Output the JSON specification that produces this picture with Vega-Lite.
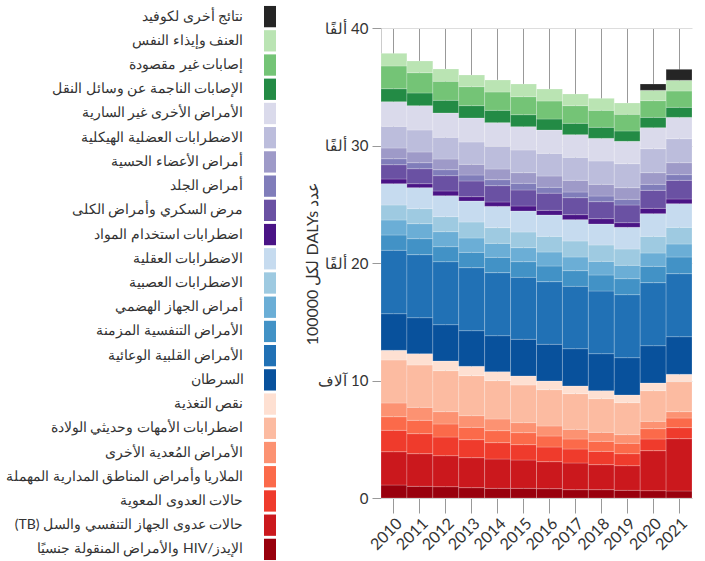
{
  "$schema": "https://vega.github.io/schema/vega-lite/v6.json",
  "padding": {"left": 5, "top": 5, "right": 0, "bottom": 0},
  "background": "white",
  "config": {"view": {"stroke": null}, "font": "Lato", "concat": {"spacing": 28}},
  "datasets": {
    "d": [
      {"year": 2010, "cause": "الإيدز/HIV والأمراض المنقولة جنسيًا", "value": 1106},
      {"year": 2010, "cause": "حالات عدوى الجهاز التنفسي والسل (TB)", "value": 2834},
      {"year": 2010, "cause": "حالات العدوى المعوية", "value": 1821},
      {"year": 2010, "cause": "الملاريا وأمراض المناطق المدارية المهملة", "value": 1158},
      {"year": 2010, "cause": "الأمراض المُعدية الأخرى", "value": 1166},
      {"year": 2010, "cause": "اضطرابات الأمهات وحديثي الولادة", "value": 3660},
      {"year": 2010, "cause": "نقص التغذية", "value": 825},
      {"year": 2010, "cause": "السرطان", "value": 3115},
      {"year": 2010, "cause": "الأمراض القلبية الوعائية", "value": 5395},
      {"year": 2010, "cause": "الأمراض التنفسية المزمنة", "value": 1303},
      {"year": 2010, "cause": "أمراض الجهاز الهضمي", "value": 1277},
      {"year": 2010, "cause": "الاضطرابات العصبية", "value": 1276},
      {"year": 2010, "cause": "الاضطرابات العقلية", "value": 1812},
      {"year": 2010, "cause": "اضطرابات استخدام المواد", "value": 401},
      {"year": 2010, "cause": "مرض السكري وأمراض الكلى", "value": 1217},
      {"year": 2010, "cause": "أمراض الجلد", "value": 510},
      {"year": 2010, "cause": "أمراض الأعضاء الحسية", "value": 911},
      {"year": 2010, "cause": "الاضطرابات العضلية الهيكلية", "value": 1846},
      {"year": 2010, "cause": "الأمراض الأخرى غير السارية", "value": 2094},
      {"year": 2010, "cause": "الإصابات الناجمة عن وسائل النقل", "value": 1106},
      {"year": 2010, "cause": "إصابات غير مقصودة", "value": 1933},
      {"year": 2010, "cause": "العنف وإيذاء النفس", "value": 1079},

      {"year": 2011, "cause": "الإيدز/HIV والأمراض المنقولة جنسيًا", "value": 996},
      {"year": 2011, "cause": "حالات عدوى الجهاز التنفسي والسل (TB)", "value": 2777},
      {"year": 2011, "cause": "حالات العدوى المعوية", "value": 1702},
      {"year": 2011, "cause": "الملاريا وأمراض المناطق المدارية المهملة", "value": 1135},
      {"year": 2011, "cause": "الأمراض المُعدية الأخرى", "value": 1107},
      {"year": 2011, "cause": "اضطرابات الأمهات وحديثي الولادة", "value": 3602},
      {"year": 2011, "cause": "نقص التغذية", "value": 965},
      {"year": 2011, "cause": "السرطان", "value": 3061},
      {"year": 2011, "cause": "الأمراض القلبية الوعائية", "value": 5364},
      {"year": 2011, "cause": "الأمراض التنفسية المزمنة", "value": 1361},
      {"year": 2011, "cause": "أمراض الجهاز الهضمي", "value": 1277},
      {"year": 2011, "cause": "الاضطرابات العصبية", "value": 1276},
      {"year": 2011, "cause": "الاضطرابات العقلية", "value": 1788},
      {"year": 2011, "cause": "اضطرابات استخدام المواد", "value": 337},
      {"year": 2011, "cause": "مرض السكري وأمراض الكلى", "value": 1278},
      {"year": 2011, "cause": "أمراض الجلد", "value": 510},
      {"year": 2011, "cause": "أمراض الأعضاء الحسية", "value": 911},
      {"year": 2011, "cause": "الاضطرابات العضلية الهيكلية", "value": 1872},
      {"year": 2011, "cause": "الأمراض الأخرى غير السارية", "value": 2070},
      {"year": 2011, "cause": "الإصابات الناجمة عن وسائل النقل", "value": 1079},
      {"year": 2011, "cause": "إصابات غير مقصودة", "value": 1727},
      {"year": 2011, "cause": "العنف وإيذاء النفس", "value": 996},

      {"year": 2012, "cause": "الإيدز/HIV والأمراض المنقولة جنسيًا", "value": 965},
      {"year": 2012, "cause": "حالات عدوى الجهاز التنفسي والسل (TB)", "value": 2638},
      {"year": 2012, "cause": "حالات العدوى المعوية", "value": 1588},
      {"year": 2012, "cause": "الملاريا وأمراض المناطق المدارية المهملة", "value": 1107},
      {"year": 2012, "cause": "الأمراض المُعدية الأخرى", "value": 1050},
      {"year": 2012, "cause": "اضطرابات الأمهات وحديثي الولادة", "value": 3489},
      {"year": 2012, "cause": "نقص التغذية", "value": 823},
      {"year": 2012, "cause": "السرطان", "value": 3092},
      {"year": 2012, "cause": "الأمراض القلبية الوعائية", "value": 5361},
      {"year": 2012, "cause": "الأمراض التنفسية المزمنة", "value": 1277},
      {"year": 2012, "cause": "أمراض الجهاز الهضمي", "value": 1277},
      {"year": 2012, "cause": "الاضطرابات العصبية", "value": 1276},
      {"year": 2012, "cause": "الاضطرابات العقلية", "value": 1788},
      {"year": 2012, "cause": "اضطرابات استخدام المواد", "value": 397},
      {"year": 2012, "cause": "مرض السكري وأمراض الكلى", "value": 1304},
      {"year": 2012, "cause": "أمراض الجلد", "value": 511},
      {"year": 2012, "cause": "أمراض الأعضاء الحسية", "value": 908},
      {"year": 2012, "cause": "الاضطرابات العضلية الهيكلية", "value": 1843},
      {"year": 2012, "cause": "الأمراض الأخرى غير السارية", "value": 2072},
      {"year": 2012, "cause": "الإصابات الناجمة عن وسائل النقل", "value": 1078},
      {"year": 2012, "cause": "إصابات غير مقصودة", "value": 1617},
      {"year": 2012, "cause": "العنف وإيذاء النفس", "value": 1049},

      {"year": 2013, "cause": "الإيدز/HIV والأمراض المنقولة جنسيًا", "value": 879},
      {"year": 2013, "cause": "حالات عدوى الجهاز التنفسي والسل (TB)", "value": 2554},
      {"year": 2013, "cause": "حالات العدوى المعوية", "value": 1532},
      {"year": 2013, "cause": "الملاريا وأمراض المناطق المدارية المهملة", "value": 1049},
      {"year": 2013, "cause": "الأمراض المُعدية الأخرى", "value": 993},
      {"year": 2013, "cause": "اضطرابات الأمهات وحديثي الولادة", "value": 3404},
      {"year": 2013, "cause": "نقص التغذية", "value": 794},
      {"year": 2013, "cause": "السرطان", "value": 3036},
      {"year": 2013, "cause": "الأمراض القلبية الوعائية", "value": 5362},
      {"year": 2013, "cause": "الأمراض التنفسية المزمنة", "value": 1305},
      {"year": 2013, "cause": "أمراض الجهاز الهضمي", "value": 1220},
      {"year": 2013, "cause": "الاضطرابات العصبية", "value": 1361},
      {"year": 2013, "cause": "الاضطرابات العقلية", "value": 1787},
      {"year": 2013, "cause": "اضطرابات استخدام المواد", "value": 369},
      {"year": 2013, "cause": "مرض السكري وأمراض الكلى", "value": 1334},
      {"year": 2013, "cause": "أمراض الجلد", "value": 510},
      {"year": 2013, "cause": "أمراض الأعضاء الحسية", "value": 908},
      {"year": 2013, "cause": "الاضطرابات العضلية الهيكلية", "value": 1901},
      {"year": 2013, "cause": "الأمراض الأخرى غير السارية", "value": 2042},
      {"year": 2013, "cause": "الإصابات الناجمة عن وسائل النقل", "value": 1049},
      {"year": 2013, "cause": "إصابات غير مقصودة", "value": 1617},
      {"year": 2013, "cause": "العنف وإيذاء النفس", "value": 993},

      {"year": 2014, "cause": "الإيدز/HIV والأمراض المنقولة جنسيًا", "value": 823},
      {"year": 2014, "cause": "حالات عدوى الجهاز التنفسي والسل (TB)", "value": 2496},
      {"year": 2014, "cause": "حالات العدوى المعوية", "value": 1390},
      {"year": 2014, "cause": "الملاريا وأمراض المناطق المدارية المهملة", "value": 1021},
      {"year": 2014, "cause": "الأمراض المُعدية الأخرى", "value": 993},
      {"year": 2014, "cause": "اضطرابات الأمهات وحديثي الولادة", "value": 3263},
      {"year": 2014, "cause": "نقص التغذية", "value": 766},
      {"year": 2014, "cause": "السرطان", "value": 3061},
      {"year": 2014, "cause": "الأمراض القلبية الوعائية", "value": 5364},
      {"year": 2014, "cause": "الأمراض التنفسية المزمنة", "value": 1305},
      {"year": 2014, "cause": "أمراض الجهاز الهضمي", "value": 1192},
      {"year": 2014, "cause": "الاضطرابات العصبية", "value": 1333},
      {"year": 2014, "cause": "الاضطرابات العقلية", "value": 1815},
      {"year": 2014, "cause": "اضطرابات استخدام المواد", "value": 369},
      {"year": 2014, "cause": "مرض السكري وأمراض الكلى", "value": 1391},
      {"year": 2014, "cause": "أمراض الجلد", "value": 510},
      {"year": 2014, "cause": "أمراض الأعضاء الحسية", "value": 908},
      {"year": 2014, "cause": "الاضطرابات العضلية الهيكلية", "value": 1931},
      {"year": 2014, "cause": "الأمراض الأخرى غير السارية", "value": 2013},
      {"year": 2014, "cause": "الإصابات الناجمة عن وسائل النقل", "value": 1050},
      {"year": 2014, "cause": "إصابات غير مقصودة", "value": 1559},
      {"year": 2014, "cause": "العنف وإيذاء النفس", "value": 1021},

      {"year": 2015, "cause": "الإيدز/HIV والأمراض المنقولة جنسيًا", "value": 823},
      {"year": 2015, "cause": "حالات عدوى الجهاز التنفسي والسل (TB)", "value": 2411},
      {"year": 2015, "cause": "حالات العدوى المعوية", "value": 1305},
      {"year": 2015, "cause": "الملاريا وأمراض المناطق المدارية المهملة", "value": 1021},
      {"year": 2015, "cause": "الأمراض المُعدية الأخرى", "value": 851},
      {"year": 2015, "cause": "اضطرابات الأمهات وحديثي الولادة", "value": 3206},
      {"year": 2015, "cause": "نقص التغذية", "value": 766},
      {"year": 2015, "cause": "السرطان", "value": 3123},
      {"year": 2015, "cause": "الأمراض القلبية الوعائية", "value": 5274},
      {"year": 2015, "cause": "الأمراض التنفسية المزمنة", "value": 1333},
      {"year": 2015, "cause": "أمراض الجهاز الهضمي", "value": 1192},
      {"year": 2015, "cause": "الاضطرابات العصبية", "value": 1333},
      {"year": 2015, "cause": "الاضطرابات العقلية", "value": 1787},
      {"year": 2015, "cause": "اضطرابات استخدام المواد", "value": 426},
      {"year": 2015, "cause": "مرض السكري وأمراض الكلى", "value": 1362},
      {"year": 2015, "cause": "أمراض الجلد", "value": 570},
      {"year": 2015, "cause": "أمراض الأعضاء الحسية", "value": 905},
      {"year": 2015, "cause": "الاضطرابات العضلية الهيكلية", "value": 1929},
      {"year": 2015, "cause": "الأمراض الأخرى غير السارية", "value": 1983},
      {"year": 2015, "cause": "الإصابات الناجمة عن وسائل النقل", "value": 1021},
      {"year": 2015, "cause": "إصابات غير مقصودة", "value": 1532},
      {"year": 2015, "cause": "العنف وإيذاء النفس", "value": 1081},

      {"year": 2016, "cause": "الإيدز/HIV والأمراض المنقولة جنسيًا", "value": 794},
      {"year": 2016, "cause": "حالات عدوى الجهاز التنفسي والسل (TB)", "value": 2298},
      {"year": 2016, "cause": "حالات العدوى المعوية", "value": 1248},
      {"year": 2016, "cause": "الملاريا وأمراض المناطق المدارية المهملة", "value": 937},
      {"year": 2016, "cause": "الأمراض المُعدية الأخرى", "value": 851},
      {"year": 2016, "cause": "اضطرابات الأمهات وحديثي الولادة", "value": 3092},
      {"year": 2016, "cause": "نقص التغذية", "value": 737},
      {"year": 2016, "cause": "السرطان", "value": 3123},
      {"year": 2016, "cause": "الأمراض القلبية الوعائية", "value": 5331},
      {"year": 2016, "cause": "الأمراض التنفسية المزمنة", "value": 1334},
      {"year": 2016, "cause": "أمراض الجهاز الهضمي", "value": 1191},
      {"year": 2016, "cause": "الاضطرابات العصبية", "value": 1333},
      {"year": 2016, "cause": "الاضطرابات العقلية", "value": 1816},
      {"year": 2016, "cause": "اضطرابات استخدام المواد", "value": 397},
      {"year": 2016, "cause": "مرض السكري وأمراض الكلى", "value": 1460},
      {"year": 2016, "cause": "أمراض الجلد", "value": 500},
      {"year": 2016, "cause": "أمراض الأعضاء الحسية", "value": 960},
      {"year": 2016, "cause": "الاضطرابات العضلية الهيكلية", "value": 1930},
      {"year": 2016, "cause": "الأمراض الأخرى غير السارية", "value": 1985},
      {"year": 2016, "cause": "الإصابات الناجمة عن وسائل النقل", "value": 936},
      {"year": 2016, "cause": "إصابات غير مقصودة", "value": 1532},
      {"year": 2016, "cause": "العنف وإيذاء النفس", "value": 1021},

      {"year": 2017, "cause": "الإيدز/HIV والأمراض المنقولة جنسيًا", "value": 709},
      {"year": 2017, "cause": "حالات عدوى الجهاز التنفسي والسل (TB)", "value": 2270},
      {"year": 2017, "cause": "حالات العدوى المعوية", "value": 1191},
      {"year": 2017, "cause": "الملاريا وأمراض المناطق المدارية المهملة", "value": 851},
      {"year": 2017, "cause": "الأمراض المُعدية الأخرى", "value": 823},
      {"year": 2017, "cause": "اضطرابات الأمهات وحديثي الولادة", "value": 3036},
      {"year": 2017, "cause": "نقص التغذية", "value": 652},
      {"year": 2017, "cause": "السرطان", "value": 3177},
      {"year": 2017, "cause": "الأمراض القلبية الوعائية", "value": 5305},
      {"year": 2017, "cause": "الأمراض التنفسية المزمنة", "value": 1334},
      {"year": 2017, "cause": "أمراض الجهاز الهضمي", "value": 1163},
      {"year": 2017, "cause": "الاضطرابات العصبية", "value": 1361},
      {"year": 2017, "cause": "الاضطرابات العقلية", "value": 1817},
      {"year": 2017, "cause": "اضطرابات استخدام المواد", "value": 425},
      {"year": 2017, "cause": "مرض السكري وأمراض الكلى", "value": 1446},
      {"year": 2017, "cause": "أمراض الجلد", "value": 482},
      {"year": 2017, "cause": "أمراض الأعضاء الحسية", "value": 994},
      {"year": 2017, "cause": "الاضطرابات العضلية الهيكلية", "value": 1959},
      {"year": 2017, "cause": "الأمراض الأخرى غير السارية", "value": 1926},
      {"year": 2017, "cause": "الإصابات الناجمة عن وسائل النقل", "value": 968},
      {"year": 2017, "cause": "إصابات غير مقصودة", "value": 1500},
      {"year": 2017, "cause": "العنف وإيذاء النفس", "value": 994},

      {"year": 2018, "cause": "الإيدز/HIV والأمراض المنقولة جنسيًا", "value": 709},
      {"year": 2018, "cause": "حالات عدوى الجهاز التنفسي والسل (TB)", "value": 2128},
      {"year": 2018, "cause": "حالات العدوى المعوية", "value": 1134},
      {"year": 2018, "cause": "الملاريا وأمراض المناطق المدارية المهملة", "value": 852},
      {"year": 2018, "cause": "الأمراض المُعدية الأخرى", "value": 766},
      {"year": 2018, "cause": "اضطرابات الأمهات وحديثي الولادة", "value": 2865},
      {"year": 2018, "cause": "نقص التغذية", "value": 681},
      {"year": 2018, "cause": "السرطان", "value": 3149},
      {"year": 2018, "cause": "الأمراض القلبية الوعائية", "value": 5333},
      {"year": 2018, "cause": "الأمراض التنفسية المزمنة", "value": 1362},
      {"year": 2018, "cause": "أمراض الجهاز الهضمي", "value": 1163},
      {"year": 2018, "cause": "الاضطرابات العصبية", "value": 1390},
      {"year": 2018, "cause": "الاضطرابات العقلية", "value": 1787},
      {"year": 2018, "cause": "اضطرابات استخدام المواد", "value": 454},
      {"year": 2018, "cause": "مرض السكري وأمراض الكلى", "value": 1446},
      {"year": 2018, "cause": "أمراض الجلد", "value": 483},
      {"year": 2018, "cause": "أمراض الأعضاء الحسية", "value": 993},
      {"year": 2018, "cause": "الاضطرابات العضلية الهيكلية", "value": 1986},
      {"year": 2018, "cause": "الأمراض الأخرى غير السارية", "value": 1929},
      {"year": 2018, "cause": "الإصابات الناجمة عن وسائل النقل", "value": 939},
      {"year": 2018, "cause": "إصابات غير مقصودة", "value": 1445},
      {"year": 2018, "cause": "العنف وإيذاء النفس", "value": 1020},

      {"year": 2019, "cause": "الإيدز/HIV والأمراض المنقولة جنسيًا", "value": 652},
      {"year": 2019, "cause": "حالات عدوى الجهاز التنفسي والسل (TB)", "value": 2100},
      {"year": 2019, "cause": "حالات العدوى المعوية", "value": 1021},
      {"year": 2019, "cause": "الملاريا وأمراض المناطق المدارية المهملة", "value": 879},
      {"year": 2019, "cause": "الأمراض المُعدية الأخرى", "value": 738},
      {"year": 2019, "cause": "اضطرابات الأمهات وحديثي الولادة", "value": 2723},
      {"year": 2019, "cause": "نقص التغذية", "value": 653},
      {"year": 2019, "cause": "السرطان", "value": 3177},
      {"year": 2019, "cause": "الأمراض القلبية الوعائية", "value": 5362},
      {"year": 2019, "cause": "الأمراض التنفسية المزمنة", "value": 1362},
      {"year": 2019, "cause": "أمراض الجهاز الهضمي", "value": 1134},
      {"year": 2019, "cause": "الاضطرابات العصبية", "value": 1390},
      {"year": 2019, "cause": "الاضطرابات العقلية", "value": 1844},
      {"year": 2019, "cause": "اضطرابات استخدام المواد", "value": 397},
      {"year": 2019, "cause": "مرض السكري وأمراض الكلى", "value": 1504},
      {"year": 2019, "cause": "أمراض الجلد", "value": 483},
      {"year": 2019, "cause": "أمراض الأعضاء الحسية", "value": 992},
      {"year": 2019, "cause": "الاضطرابات العضلية الهيكلية", "value": 2043},
      {"year": 2019, "cause": "الأمراض الأخرى غير السارية", "value": 1901},
      {"year": 2019, "cause": "الإصابات الناجمة عن وسائل النقل", "value": 879},
      {"year": 2019, "cause": "إصابات غير مقصودة", "value": 1418},
      {"year": 2019, "cause": "العنف وإيذاء النفس", "value": 965},

      {"year": 2020, "cause": "الإيدز/HIV والأمراض المنقولة جنسيًا", "value": 624},
      {"year": 2020, "cause": "حالات عدوى الجهاز التنفسي والسل (TB)", "value": 3404},
      {"year": 2020, "cause": "حالات العدوى المعوية", "value": 993},
      {"year": 2020, "cause": "الملاريا وأمراض المناطق المدارية المهملة", "value": 880},
      {"year": 2020, "cause": "الأمراض المُعدية الأخرى", "value": 624},
      {"year": 2020, "cause": "اضطرابات الأمهات وحديثي الولادة", "value": 2610},
      {"year": 2020, "cause": "نقص التغذية", "value": 652},
      {"year": 2020, "cause": "السرطان", "value": 3175},
      {"year": 2020, "cause": "الأمراض القلبية الوعائية", "value": 5364},
      {"year": 2020, "cause": "الأمراض التنفسية المزمنة", "value": 1390},
      {"year": 2020, "cause": "أمراض الجهاز الهضمي", "value": 1135},
      {"year": 2020, "cause": "الاضطرابات العصبية", "value": 1418},
      {"year": 2020, "cause": "الاضطرابات العقلية", "value": 1929},
      {"year": 2020, "cause": "اضطرابات استخدام المواد", "value": 454},
      {"year": 2020, "cause": "مرض السكري وأمراض الكلى", "value": 1532},
      {"year": 2020, "cause": "أمراض الجلد", "value": 511},
      {"year": 2020, "cause": "أمراض الأعضاء الحسية", "value": 993},
      {"year": 2020, "cause": "الاضطرابات العضلية الهيكلية", "value": 2043},
      {"year": 2020, "cause": "الأمراض الأخرى غير السارية", "value": 1784},
      {"year": 2020, "cause": "الإصابات الناجمة عن وسائل النقل", "value": 881},
      {"year": 2020, "cause": "إصابات غير مقصودة", "value": 1419},
      {"year": 2020, "cause": "العنف وإيذاء النفس", "value": 882},
      {"year": 2020, "cause": "نتائج أخرى لكوفيد", "value": 537},

      {"year": 2021, "cause": "الإيدز/HIV والأمراض المنقولة جنسيًا", "value": 596},
      {"year": 2021, "cause": "حالات عدوى الجهاز التنفسي والسل (TB)", "value": 4453},
      {"year": 2021, "cause": "حالات العدوى المعوية", "value": 937},
      {"year": 2021, "cause": "الملاريا وأمراض المناطق المدارية المهملة", "value": 822},
      {"year": 2021, "cause": "الأمراض المُعدية الأخرى", "value": 540},
      {"year": 2021, "cause": "اضطرابات الأمهات وحديثي الولادة", "value": 2553},
      {"year": 2021, "cause": "نقص التغذية", "value": 624},
      {"year": 2021, "cause": "السرطان", "value": 3203},
      {"year": 2021, "cause": "الأمراض القلبية الوعائية", "value": 5363},
      {"year": 2021, "cause": "الأمراض التنفسية المزمنة", "value": 1420},
      {"year": 2021, "cause": "أمراض الجهاز الهضمي", "value": 1106},
      {"year": 2021, "cause": "الاضطرابات العصبية", "value": 1418},
      {"year": 2021, "cause": "الاضطرابات العقلية", "value": 2012},
      {"year": 2021, "cause": "اضطرابات استخدام المواد", "value": 400},
      {"year": 2021, "cause": "مرض السكري وأمراض الكلى", "value": 1589},
      {"year": 2021, "cause": "أمراض الجلد", "value": 481},
      {"year": 2021, "cause": "أمراض الأعضاء الحسية", "value": 1019},
      {"year": 2021, "cause": "الاضطرابات العضلية الهيكلية", "value": 2042},
      {"year": 2021, "cause": "الأمراض الأخرى غير السارية", "value": 1818},
      {"year": 2021, "cause": "الإصابات الناجمة عن وسائل النقل", "value": 854},
      {"year": 2021, "cause": "إصابات غير مقصودة", "value": 1388},
      {"year": 2021, "cause": "العنف وإيذاء النفس", "value": 910},
      {"year": 2021, "cause": "نتائج أخرى لكوفيد", "value": 936}
    ]
  },
  "hconcat": [
    {
      "width": 12,
      "height": 557,
      "data": {"name": "d"},
      "transform": [{"aggregate": [{"op": "count", "as": "n"}], "groupby": ["cause"]}],
      "mark": {"type": "rect", "yOffset": -23.5},
      "encoding": {
        "y": {
          "field": "cause", "type": "nominal",
          "sort": ["نتائج أخرى لكوفيد", "العنف وإيذاء النفس", "إصابات غير مقصودة", "الإصابات الناجمة عن وسائل النقل", "الأمراض الأخرى غير السارية", "الاضطرابات العضلية الهيكلية", "أمراض الأعضاء الحسية", "أمراض الجلد", "مرض السكري وأمراض الكلى", "اضطرابات استخدام المواد", "الاضطرابات العقلية", "الاضطرابات العصبية", "أمراض الجهاز الهضمي", "الأمراض التنفسية المزمنة", "الأمراض القلبية الوعائية", "السرطان", "نقص التغذية", "اضطرابات الأمهات وحديثي الولادة", "الأمراض المُعدية الأخرى", "الملاريا وأمراض المناطق المدارية المهملة", "حالات العدوى المعوية", "حالات عدوى الجهاز التنفسي والسل (TB)", "الإيدز/HIV والأمراض المنقولة جنسيًا"],
          "scale": {"paddingInner": 0.12, "paddingOuter": 0.06},
          "axis": {"title": null, "domain": false, "ticks": false, "labelPadding": 21, "labelOffset": -23.5, "labelFontSize": 14, "labelColor": "#333", "labelLimit": 400, "labelExpr": "'\u202b' + datum.label + '\u202c'"}
        },
        "color": {
          "field": "cause", "type": "nominal", "legend": null,
          "scale": {
            "domain": ["نتائج أخرى لكوفيد", "العنف وإيذاء النفس", "إصابات غير مقصودة", "الإصابات الناجمة عن وسائل النقل", "الأمراض الأخرى غير السارية", "الاضطرابات العضلية الهيكلية", "أمراض الأعضاء الحسية", "أمراض الجلد", "مرض السكري وأمراض الكلى", "اضطرابات استخدام المواد", "الاضطرابات العقلية", "الاضطرابات العصبية", "أمراض الجهاز الهضمي", "الأمراض التنفسية المزمنة", "الأمراض القلبية الوعائية", "السرطان", "نقص التغذية", "اضطرابات الأمهات وحديثي الولادة", "الأمراض المُعدية الأخرى", "الملاريا وأمراض المناطق المدارية المهملة", "حالات العدوى المعوية", "حالات عدوى الجهاز التنفسي والسل (TB)", "الإيدز/HIV والأمراض المنقولة جنسيًا"],
            "range": ["#252525", "#bae4b3", "#74c476", "#238b45", "#dadaeb", "#bcbddc", "#9e9ac8", "#807dba", "#6a51a3", "#4a1486", "#c6dbef", "#9ecae1", "#6baed6", "#4292c6", "#2171b5", "#08519c", "#fee0d2", "#fcbba1", "#fc9272", "#fb6a4a", "#ef3b2c", "#cb181d", "#99000d"]
          }
        }
      }
    },
    {
      "width": 311,
      "height": 470,
      "data": {"name": "d"},
      "transform": [
        {"calculate": "indexof(['الإيدز/HIV والأمراض المنقولة جنسيًا', 'حالات عدوى الجهاز التنفسي والسل (TB)', 'حالات العدوى المعوية', 'الملاريا وأمراض المناطق المدارية المهملة', 'الأمراض المُعدية الأخرى', 'اضطرابات الأمهات وحديثي الولادة', 'نقص التغذية', 'السرطان', 'الأمراض القلبية الوعائية', 'الأمراض التنفسية المزمنة', 'أمراض الجهاز الهضمي', 'الاضطرابات العصبية', 'الاضطرابات العقلية', 'اضطرابات استخدام المواد', 'مرض السكري وأمراض الكلى', 'أمراض الجلد', 'أمراض الأعضاء الحسية', 'الاضطرابات العضلية الهيكلية', 'الأمراض الأخرى غير السارية', 'الإصابات الناجمة عن وسائل النقل', 'إصابات غير مقصودة', 'العنف وإيذاء النفس', 'نتائج أخرى لكوفيد'], datum.cause)", "as": "stack_rank"}
      ],
      "mark": {"type": "bar", "stroke": "#ffffff", "strokeWidth": 0.4, "strokeOpacity": 0.5},
      "encoding": {
        "x": {
          "field": "year", "type": "ordinal",
          "scale": {"paddingInner": 0, "paddingOuter": 0},
          "axis": {"title": null, "labelAngle": -45, "labelFontSize": 16, "labelColor": "#333", "tickSize": 15, "tickColor": "#999", "grid": true, "gridColor": "#999", "domainColor": "#ccc", "labelPadding": 2}
        },
        "y": {
          "field": "value", "type": "quantitative", "stack": "zero",
          "scale": {"domain": [0, 40000], "nice": false},
          "axis": {
            "values": [0, 10000, 20000, 30000, 40000],
            "labelExpr": "'\u202b' + (datum.value == 0 ? '0' : datum.value == 10000 ? '10 آلاف' : (datum.value / 1000) + ' ألفًا') + '\u202c'",
            "labelFontSize": 15, "labelColor": "#333", "tickSize": 9, "tickColor": "#999", "labelPadding": 4,
            "domainColor": "#ccc", "gridColor": "#ddd",
            "title": "\u202bعدد DALYs لكل 100000\u202c", "titleFontSize": 16, "titleFontWeight": "normal", "titleColor": "#333", "titlePadding": -3
          }
        },
        "order": {"field": "stack_rank", "type": "quantitative", "sort": "ascending"},
        "color": {
          "field": "cause", "type": "nominal", "legend": null,
          "scale": {
            "domain": ["نتائج أخرى لكوفيد", "العنف وإيذاء النفس", "إصابات غير مقصودة", "الإصابات الناجمة عن وسائل النقل", "الأمراض الأخرى غير السارية", "الاضطرابات العضلية الهيكلية", "أمراض الأعضاء الحسية", "أمراض الجلد", "مرض السكري وأمراض الكلى", "اضطرابات استخدام المواد", "الاضطرابات العقلية", "الاضطرابات العصبية", "أمراض الجهاز الهضمي", "الأمراض التنفسية المزمنة", "الأمراض القلبية الوعائية", "السرطان", "نقص التغذية", "اضطرابات الأمهات وحديثي الولادة", "الأمراض المُعدية الأخرى", "الملاريا وأمراض المناطق المدارية المهملة", "حالات العدوى المعوية", "حالات عدوى الجهاز التنفسي والسل (TB)", "الإيدز/HIV والأمراض المنقولة جنسيًا"],
            "range": ["#252525", "#bae4b3", "#74c476", "#238b45", "#dadaeb", "#bcbddc", "#9e9ac8", "#807dba", "#6a51a3", "#4a1486", "#c6dbef", "#9ecae1", "#6baed6", "#4292c6", "#2171b5", "#08519c", "#fee0d2", "#fcbba1", "#fc9272", "#fb6a4a", "#ef3b2c", "#cb181d", "#99000d"]
          }
        }
      }
    }
  ]
}
